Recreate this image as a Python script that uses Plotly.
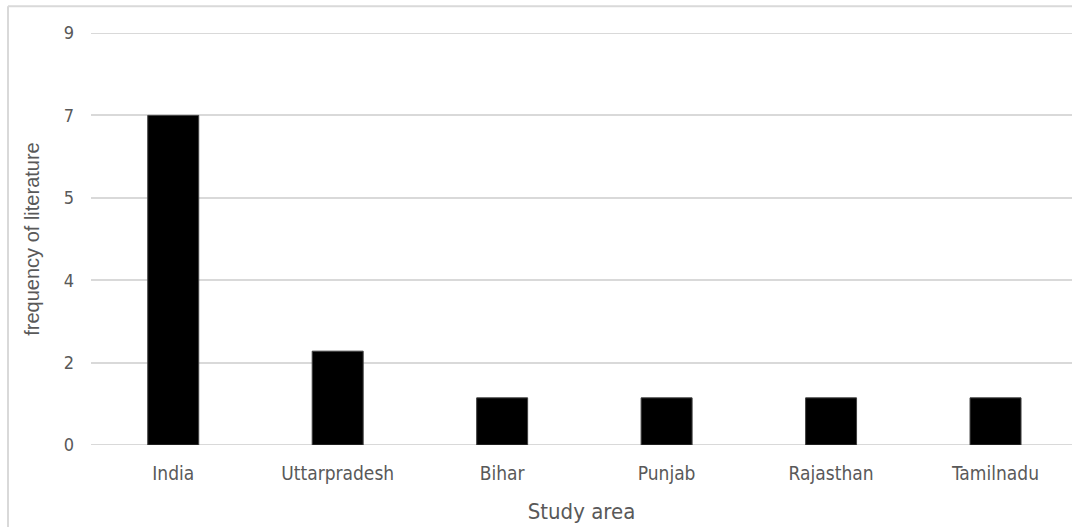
import plotly.graph_objects as go

# Number of studies per study area
areas = ["India", "Uttarpradesh", "Bihar", "Punjab", "Rajasthan", "Tamilnadu"]
frequency = [7.2, 2.05, 1.03, 1.03, 1.03, 1.03]

# Y axis steps of 1.8 shown with zero decimals
y_tick_vals = [0, 1.8, 3.6, 5.4, 7.2, 9]
y_tick_text = ["0", "2", "4", "5", "7", "9"]

FONT = "DejaVu Sans Condensed, sans-serif"
GREY = "#595959"
GRID = "#d9d9d9"

fig = go.Figure(
    go.Bar(
        x=areas,
        y=frequency,
        marker=dict(color="black", line=dict(color="#404040", width=1)),
    )
)

# gridlines at the ends of the value range, which plotly omits at the plot edges
edge_grid = [
    dict(type="line", xref="paper", yref="y", x0=0, x1=1,
         y0=v, y1=v, layer="below", line=dict(color=GRID, width=2))
    for v in (y_tick_vals[0], y_tick_vals[-1])
]

# outer frame of the chart box
frame = [
    dict(type="line", xref="paper", yref="paper",
         x0=-0.0846, x1=-0.0846, y0=1.065, y1=-0.21,
         line=dict(color=GRID, width=2)),
    dict(type="line", xref="paper", yref="paper",
         x0=-0.0846, x1=1.01, y0=1.065, y1=1.065,
         line=dict(color=GRID, width=2)),
]

fig.update_layout(
    width=1072,
    height=527,
    margin=dict(l=91, r=0, t=33, b=82),
    paper_bgcolor="white",
    plot_bgcolor="white",
    bargap=0.69,
    showlegend=False,
    font=dict(family=FONT, color=GREY, size=16),
    xaxis=dict(
        range=[-0.5, 5.465],
        showgrid=False,
        zeroline=False,
        showline=False,
        ticks="",
        ticklabelstandoff=15,
        tickfont=dict(size=19, color=GREY),
        title=dict(text="Study area", font=dict(size=22, color=GREY), standoff=20),
    ),
    yaxis=dict(
        range=[0, 9],
        tickvals=y_tick_vals,
        ticktext=y_tick_text,
        showgrid=True,
        gridcolor=GRID,
        gridwidth=2,
        zeroline=False,
        showline=False,
        ticks="",
        ticklabelstandoff=16,
        tickfont=dict(size=18, color=GREY),
        title=dict(text="frequency of literature",
                   font=dict(family="Liberation Sans, Arial, sans-serif", size=20, color=GREY),
                   standoff=18),
    ),
    shapes=edge_grid + frame,
)

fig.write_html("out.html")
